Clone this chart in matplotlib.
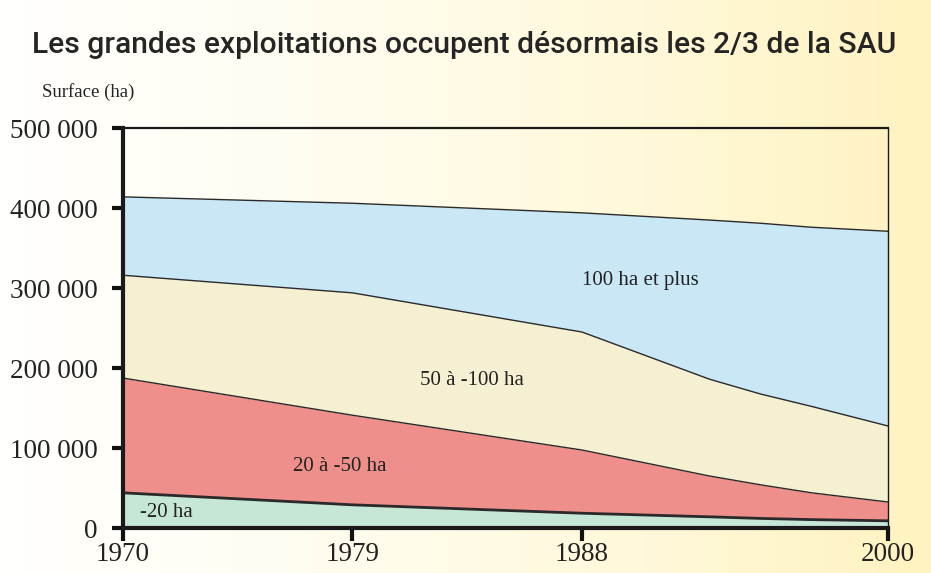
import numpy as np
import matplotlib
matplotlib.use("Agg")
import matplotlib.pyplot as plt
from matplotlib.colors import LinearSegmentedColormap
from matplotlib.ticker import FuncFormatter

# Surface (ha) by farm size class (stacked)
years = [1970, 1979, 1988, 1993, 1995, 1997, 2000]
moins_20 = [44000, 29000, 18500, 14000, 12000, 10500, 9000]
de_20_50 = [143500, 112000, 79000, 51000, 42000, 33500, 23500]
de_50_100 = [128500, 153000, 147500, 121000, 113500, 108000, 95000]
plus_100 = [98000, 112000, 149000, 199000, 213500, 224000, 243500]

classes = ["-20 ha", "20 à -50 ha", "50 à -100 ha", "100 ha et plus"]
colours = ["#C6E6D6", "#EF8F8C", "#F6F0D3", "#C9E7F5"]
label_pos = [(1971.7, 19000), (1978.5, 77000), (1983.7, 185000), (1990.3, 310000)]

yticks = [0, 100000, 200000, 300000, 400000, 500000]
xticks = [1970, 1979, 1988, 2000]

SERIF = "Liberation Serif"

fig = plt.figure(figsize=(9.31, 5.73), dpi=100)

# warm horizontal background gradient
bg = fig.add_axes([0, 0, 1, 1], zorder=-10)
grad = np.linspace(0, 1, 256) ** 1.5
cmap = LinearSegmentedColormap.from_list("bg", ["#FFFFFB", "#FFF3C0"])
bg.imshow(grad[np.newaxis, :], aspect="auto", cmap=cmap, extent=[0, 1, 0, 1])
bg.set_axis_off()

ax = fig.add_axes([0.132, 0.0785, 0.822, 0.698])
ax.patch.set_alpha(0)

series = [moins_20, de_20_50, de_50_100, plus_100]
cum = np.cumsum(np.array(series, dtype=float), axis=0)
lower = np.zeros(len(years))
for i, (upper, col) in enumerate(zip(cum, colours)):
    ax.fill_between(years, lower, upper, color=col, linewidth=0, zorder=1)
    lw = 2.0 if i == 0 else 1.0
    ax.plot(years, upper, color="#2a2a2a", linewidth=lw, zorder=2)
    lower = upper

for name, (x, y) in zip(classes, label_pos):
    ax.text(x, y, name, ha="center", va="center", fontsize=15,
            family=SERIF, color="#222222", zorder=3)

ax.set_xlim(1970, 2000)
ax.set_ylim(0, 500000)
ax.set_xticks(xticks)
ax.set_yticks(yticks)
ax.yaxis.set_major_formatter(FuncFormatter(lambda v, p: f"{int(v):,}".replace(",", " ")))

for lab in ax.get_xticklabels() + ax.get_yticklabels():
    lab.set_family(SERIF)
    lab.set_fontsize(19.5)
    lab.set_color("#222222")

ax.tick_params(axis="y", direction="out", length=8, width=3, pad=10, color="#111111")
ax.tick_params(axis="x", direction="out", length=9, width=3, pad=1, color="#111111")

ax.spines["left"].set_linewidth(3)
ax.spines["bottom"].set_linewidth(3)
ax.spines["top"].set_linewidth(1.6)
ax.spines["right"].set_linewidth(1.0)
for s in ax.spines.values():
    s.set_color("#1a1a1a")
    s.set_zorder(4)

fig.text(0.034, 0.9075, "Les grandes exploitations occupent désormais les 2/3 de la SAU",
         family="Roboto", fontweight="medium", fontsize=21.6, color="#252525",
         ha="left", va="baseline")
fig.text(0.045, 0.831, "Surface (ha)", family=SERIF, fontsize=13.5,
         color="#222222", ha="left", va="baseline")

fig.savefig("out.png", dpi=100)
